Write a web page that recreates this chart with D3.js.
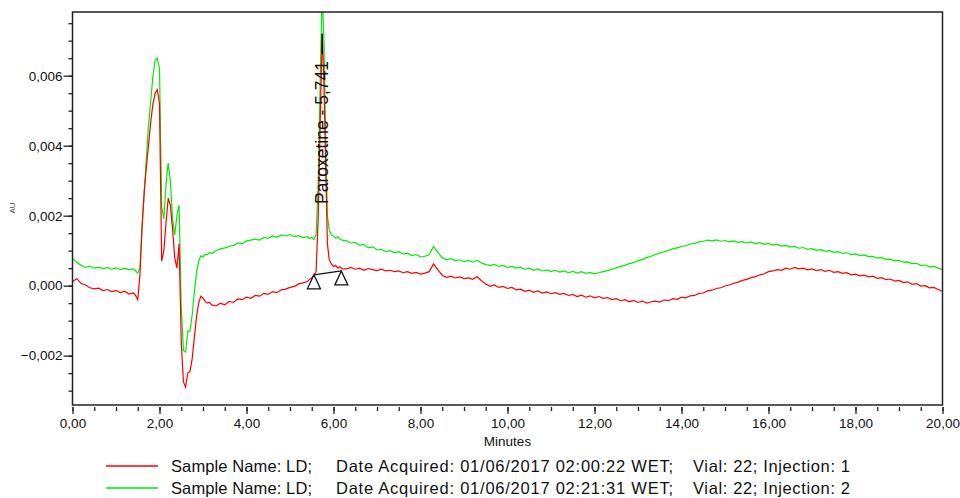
<!DOCTYPE html>
<html>
<head>
<meta charset="utf-8">
<script src="https://cdn.jsdelivr.net/npm/d3@7"></script>
<style>
  body { margin: 0; background: #fff; }
  text { font-family: "Liberation Sans", Arial, sans-serif; fill: #111; }
</style>
</head>
<body>
<div id="panel-vis-main"></div>
<script>
// retention time (min) shared by both runs
var minutes = [
  0, 0.1, 0.2, 0.3, 0.4, 0.5, 0.6, 0.7, 0.8, 0.9, 1.0, 1.1, 1.2, 1.3, 1.4,
  1.45, 1.5, 1.55, 1.6, 1.65, 1.7, 1.75, 1.8, 1.85, 1.9, 1.95, 2.0, 2.05, 2.1, 2.15, 2.2, 2.25, 2.3,
  2.35, 2.4, 2.45, 2.5, 2.55, 2.6, 2.65, 2.7, 2.75, 2.8, 2.85, 2.9, 2.95, 3.0, 3.05, 3.1, 3.15, 3.2,
  3.3, 3.4, 3.5, 3.6, 3.7, 3.8, 3.9, 4.0, 4.1, 4.2, 4.3, 4.4, 4.5, 4.6, 4.7, 4.8, 4.9, 5.0, 5.1, 5.2, 5.3, 5.4,
  5.45, 5.5, 5.55, 5.6, 5.65, 5.7, 5.74, 5.78, 5.82, 5.86, 5.9, 5.95, 6.0, 6.05, 6.1, 6.15, 6.2,
  6.3, 6.4, 6.5, 6.6, 6.7, 6.8, 6.9, 7.0, 7.1, 7.2,
  7.3, 7.4, 7.5, 7.6, 7.7, 7.8, 7.9, 8.0, 8.1, 8.2,
  8.3, 8.4, 8.5, 8.6, 8.7, 8.8, 8.9, 9.0, 9.1, 9.2,
  9.3, 9.4, 9.5, 9.6, 9.7, 9.8, 9.9, 10.0, 10.1, 10.2,
  10.3, 10.4, 10.5, 10.6, 10.7, 10.8, 10.9, 11.0, 11.1, 11.2,
  11.3, 11.4, 11.5, 11.6, 11.7, 11.8, 11.9, 12.0, 12.1, 12.2,
  12.3, 12.4, 12.5, 12.6, 12.7, 12.8, 12.9, 13.0, 13.1, 13.2,
  13.3, 13.4, 13.5, 13.6, 13.7, 13.8, 13.9, 14.0, 14.1, 14.2,
  14.3, 14.4, 14.5, 14.6, 14.7, 14.8, 14.9, 15.0, 15.1, 15.2,
  15.3, 15.4, 15.5, 15.6, 15.7, 15.8, 15.9, 16.0, 16.1, 16.2,
  16.3, 16.4, 16.5, 16.6, 16.7, 16.8, 16.9, 17.0, 17.1, 17.2,
  17.3, 17.4, 17.5, 17.6, 17.7, 17.8, 17.9, 18.0, 18.1, 18.2,
  18.3, 18.4, 18.5, 18.6, 18.7, 18.8, 18.9, 19.0, 19.1, 19.2,
  19.3, 19.4, 19.5, 19.6, 19.7, 19.8, 19.9, 20.0
];

// absorbance in mAU (axis shows AU)
var injection1 = [
  0.12, 0.20, 0.06, 0.02, -0.06, -0.09, -0.07, -0.14, -0.11, -0.17, -0.14, -0.20, -0.16, -0.24, -0.21,
  -0.28, -0.40, 0.3, 1.7, 2.7, 3.4, 4.05, 4.7, 5.2, 5.5, 5.6, 5.2, 0.7, 1.0, 1.8, 2.5, 2.3, 1.6,
  0.8, 0.5, 1.2, -1.6, -2.75, -2.9, -2.5, -2.45, -2.1, -1.5, -0.9, -0.5, -0.3, -0.35, -0.45, -0.5, -0.48, -0.55,
  -0.58, -0.50, -0.55, -0.45, -0.48, -0.38, -0.40, -0.33, -0.36, -0.28, -0.30, -0.22, -0.25, -0.17, -0.20, -0.12, -0.10, -0.05, -0.02, 0.05, 0.08, 0.12,
  0.18, 0.22, 0.30, 0.40, 2.0, 5.0, 7.2, 5.8, 3.4, 1.2, 0.75, 0.62, 0.55, 0.58, 0.50, 0.54, 0.48,
  0.48, 0.52, 0.47, 0.50, 0.44, 0.49, 0.46, 0.43, 0.47, 0.42,
  0.44, 0.40, 0.42, 0.37, 0.40, 0.35, 0.38, 0.33, 0.36, 0.40,
  0.62, 0.45, 0.30, 0.24, 0.27, 0.22, 0.25, 0.20, 0.22, 0.18,
  0.26, 0.14, 0.05, -0.02, 0.02, -0.05, -0.02, -0.08, -0.05, -0.12,
  -0.10, -0.16, -0.13, -0.19, -0.15, -0.21, -0.18, -0.23, -0.20, -0.25,
  -0.22, -0.28, -0.25, -0.31, -0.27, -0.33, -0.29, -0.35, -0.31, -0.36,
  -0.34, -0.40, -0.37, -0.43, -0.40, -0.46, -0.42, -0.48, -0.44, -0.50,
  -0.46, -0.44, -0.47, -0.41, -0.43, -0.37, -0.39, -0.33, -0.35, -0.29,
  -0.28, -0.22, -0.21, -0.15, -0.13, -0.08, -0.06, -0.01, 0.02, 0.07,
  0.10, 0.15, 0.18, 0.23, 0.26, 0.31, 0.34, 0.40, 0.42, 0.46,
  0.44, 0.50, 0.47, 0.52, 0.48, 0.50, 0.45, 0.48, 0.43, 0.46,
  0.41, 0.44, 0.38, 0.40, 0.35, 0.37, 0.31, 0.33, 0.28, 0.30,
  0.25, 0.27, 0.21, 0.23, 0.17, 0.19, 0.13, 0.15, 0.09, 0.11,
  0.04, 0.06, -0.01, 0.00, -0.06, -0.05, -0.11, -0.16
];

var injection2 = [
  0.78, 0.66, 0.58, 0.52, 0.56, 0.50, 0.53, 0.48, 0.52, 0.47, 0.51, 0.46, 0.50, 0.45, 0.48,
  0.42, 0.36, 0.5, 1.7, 2.7, 3.7, 4.6, 5.3, 6.0, 6.45, 6.5, 6.2, 2.25, 1.9, 2.9, 3.5, 3.0, 1.9,
  1.45, 2.0, 2.3, -0.6, -1.85, -1.9, -1.3, -1.3, -0.85, -0.2, 0.36, 0.7, 0.85, 0.82, 0.9, 0.88, 0.95, 0.92,
  1.00, 1.05, 1.08, 1.12, 1.15, 1.22, 1.20, 1.28, 1.30, 1.33, 1.30, 1.38, 1.35, 1.42, 1.38, 1.45, 1.42, 1.46, 1.40, 1.43, 1.37, 1.40,
  1.35, 1.38, 1.32, 1.45, 3.0, 6.2, 8.4, 7.0, 4.2, 2.0, 1.6, 1.45, 1.42, 1.36, 1.40, 1.33, 1.30,
  1.28, 1.22, 1.24, 1.15, 1.18, 1.08, 1.11, 1.02, 1.04, 0.97,
  1.00, 0.94, 0.97, 0.90, 0.93, 0.86, 0.89, 0.82, 0.84, 0.88,
  1.12, 0.95, 0.80, 0.74, 0.77, 0.71, 0.74, 0.69, 0.72, 0.67,
  0.72, 0.65, 0.60, 0.58, 0.61, 0.55, 0.58, 0.52, 0.55, 0.50,
  0.53, 0.47, 0.50, 0.44, 0.48, 0.42, 0.45, 0.40, 0.44, 0.39,
  0.42, 0.37, 0.41, 0.36, 0.40, 0.35, 0.38, 0.34, 0.37, 0.40,
  0.43, 0.47, 0.51, 0.55, 0.58, 0.63, 0.66, 0.71, 0.75, 0.80,
  0.84, 0.89, 0.93, 0.97, 1.01, 1.05, 1.08, 1.12, 1.14, 1.19,
  1.21, 1.25, 1.27, 1.30, 1.28, 1.31, 1.27, 1.29, 1.25, 1.28,
  1.24, 1.26, 1.22, 1.25, 1.20, 1.23, 1.18, 1.21, 1.16, 1.18,
  1.13, 1.15, 1.10, 1.12, 1.07, 1.09, 1.04, 1.06, 1.01, 1.03,
  0.98, 1.00, 0.95, 0.97, 0.92, 0.94, 0.89, 0.91, 0.86, 0.88,
  0.83, 0.84, 0.79, 0.80, 0.75, 0.76, 0.71, 0.72, 0.67, 0.68,
  0.63, 0.64, 0.58, 0.59, 0.54, 0.55, 0.50, 0.46
];

var peakName = "Paroxetine - 5,741";
var peakTime = 5.741;
var peakMAU = 7.2;
var baselineMinutes = [5.55, 6.18];
var baselineMAU = [0.31, 0.42];

var xTicks = [0, 2, 4, 6, 8, 10, 12, 14, 16, 18, 20];
var yTicks = [-2, 0, 2, 4, 6];

var legendLabels = [
  ["Sample Name: LD;", "Date Acquired: 01/06/2017 02:00:22 WET;", "Vial: 22; Injection: 1"],
  ["Sample Name: LD;", "Date Acquired: 01/06/2017 02:21:31 WET;", "Vial: 22; Injection: 2"]
];
var colors = ["#ff0000", "#00ee00"];

const WIDTH = 960;
const HEIGHT = 498;
const LEFT = 72.5, RIGHT = 942.5, TOP = 12, BOTTOM = 405;

const svg = d3.select("#panel-vis-main").append("svg")
  .attr("width", WIDTH)
  .attr("height", HEIGHT);

var x = d3.scaleLinear().domain([0, 20]).range([LEFT, RIGHT]);
var y = d3.scaleLinear().domain([-3.41, 7.82]).range([BOTTOM, TOP]);

svg.append("clipPath").attr("id", "plot-clip")
  .append("rect")
  .attr("x", LEFT).attr("y", TOP)
  .attr("width", RIGHT - LEFT).attr("height", BOTTOM - TOP);

// traces
var line = function(values) {
  return d3.line()
    .x(function(d, i) { return x(minutes[i]); })
    .y(function(d) { return y(d); })(values);
};

var traces = svg.append("g").attr("clip-path", "url(#plot-clip)");
[injection2, injection1].forEach(function(vals, k) {
  traces.append("path")
    .attr("d", line(vals))
    .attr("fill", "none")
    .attr("stroke", k === 0 ? colors[1] : colors[0])
    .attr("stroke-width", 1.2);
});

// frame
svg.append("rect")
  .attr("x", LEFT).attr("y", TOP)
  .attr("width", RIGHT - LEFT).attr("height", BOTTOM - TOP)
  .attr("fill", "none")
  .attr("stroke", "#222")
  .attr("stroke-width", 1.5);

// y axis
var yAxis = svg.append("g").attr("transform", "translate(" + LEFT + ",0)");
yAxis.call(d3.axisLeft(y).tickValues(d3.range(-3, 7.6, 0.5)).tickSize(4).tickFormat(""))
  .call(function(g) { g.select(".domain").remove(); });
yAxis.append("g")
  .call(d3.axisLeft(y).tickValues(yTicks).tickSize(9).tickPadding(1)
    .tickFormat(function(d) { return d3.format(".3f")(d / 1000).replace(".", ","); }))
  .call(function(g) { g.select(".domain").remove(); });
yAxis.selectAll("line").attr("stroke", "#222").attr("stroke-width", 1.3);
yAxis.selectAll("text")
  .attr("fill", "#111")
  .style("font-family", "'Liberation Sans', Arial, sans-serif")
  .style("font-size", "13.5px");

svg.append("text")
  .attr("transform", "translate(15,208) rotate(-90)")
  .attr("text-anchor", "middle")
  .style("font-size", "8px")
  .style("fill", "#444")
  .text("AU");

// x axis (ticks sit a little below the frame)
var xAxis = svg.append("g").attr("transform", "translate(0," + (BOTTOM + 2) + ")");
xAxis.call(d3.axisBottom(x).tickValues(d3.range(0, 20.1, 0.5)).tickSize(4).tickFormat(""))
  .call(function(g) { g.select(".domain").remove(); });
xAxis.append("g")
  .call(d3.axisBottom(x).tickValues(xTicks).tickSize(7).tickPadding(4)
    .tickFormat(function(d) { return d3.format(".2f")(d).replace(".", ","); }))
  .call(function(g) { g.select(".domain").remove(); });
xAxis.selectAll("line").attr("stroke", "#222").attr("stroke-width", 1.3);
xAxis.selectAll("text")
  .attr("fill", "#111")
  .style("font-family", "'Liberation Sans', Arial, sans-serif")
  .style("font-size", "13.5px");

svg.append("text")
  .attr("x", (LEFT + RIGHT) / 2)
  .attr("y", 446)
  .attr("text-anchor", "middle")
  .style("font-size", "13.5px")
  .text("Minutes");

// peak annotation
var px = x(peakTime);
svg.append("line")
  .attr("x1", px).attr("x2", px)
  .attr("y1", y(peakMAU)).attr("y2", y(peakMAU) + 20)
  .attr("stroke", "#000").attr("stroke-width", 1.5);

svg.append("text")
  .attr("transform", "translate(" + (px + 6) + ",204) rotate(-90)")
  .style("font-size", "17.5px")
  .text(peakName);

svg.append("line")
  .attr("x1", x(baselineMinutes[0])).attr("y1", y(baselineMAU[0]))
  .attr("x2", x(baselineMinutes[1])).attr("y2", y(baselineMAU[1]))
  .attr("stroke", "#111").attr("stroke-width", 1.3);

svg.selectAll(".tri")
  .data(baselineMinutes)
  .enter().append("path")
  .attr("class", "tri")
  .attr("d", function(d, i) {
    var tx = x(d), ty = y(baselineMAU[i]);
    return "M" + tx + "," + ty + "L" + (tx - 6.5) + "," + (ty + 14) + "L" + (tx + 6.5) + "," + (ty + 14) + "Z";
  })
  .attr("fill", "none")
  .attr("stroke", "#111")
  .attr("stroke-width", 1.3);

// legend
var legend = svg.selectAll(".legend")
  .data(legendLabels)
  .enter().append("g")
  .attr("class", "legend")
  .attr("transform", function(d, i) { return "translate(0," + (466 + i * 22) + ")"; });

legend.append("line")
  .attr("x1", 106).attr("x2", 158)
  .attr("stroke", function(d, i) { return colors[i]; })
  .attr("stroke-width", 1.3);

var cols = [171, 336, 693];
var colWidths = [141, 337, 157];
cols.forEach(function(cx, c) {
  legend.append("text")
    .attr("x", cx)
    .attr("y", 6)
    .attr("textLength", colWidths[c])
    .attr("lengthAdjust", "spacing")
    .style("font-size", "16.5px")
    .text(function(d) { return d[c]; });
});
</script>
</body>
</html>
